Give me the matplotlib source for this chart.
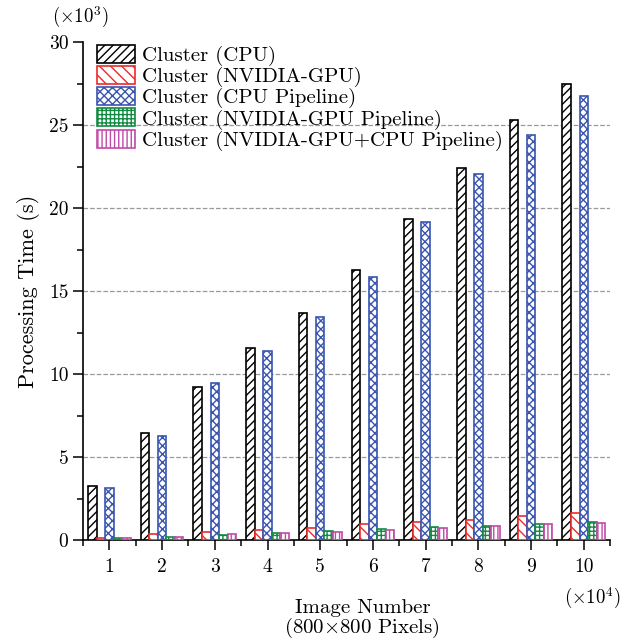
import numpy as np
import matplotlib
matplotlib.use('Agg')
import matplotlib.pyplot as plt
from matplotlib.ticker import MultipleLocator

plt.rcParams['font.family'] = ['cmr10', 'DejaVu Serif']
plt.rcParams['mathtext.fontset'] = 'cm'
plt.rcParams['axes.unicode_minus'] = False
plt.rcParams['hatch.linewidth'] = 1.0

# Image number (x10^4) and processing time (x10^3 s)
images = [1, 2, 3, 4, 5, 6, 7, 8, 9, 10]
cpu = [3.28, 6.48, 9.25, 11.6, 13.7, 16.27, 19.36, 22.4, 25.35, 27.5]
gpu = [0.16, 0.36, 0.49, 0.61, 0.77, 1.01, 1.09, 1.21, 1.46, 1.62]
cpu_pipe = [3.16, 6.3, 9.5, 11.4, 13.46, 15.87, 19.19, 22.08, 24.43, 26.78]
gpu_pipe = [0.12, 0.22, 0.35, 0.45, 0.55, 0.67, 0.79, 0.89, 0.97, 1.09]
mixed_pipe = [0.12, 0.22, 0.36, 0.42, 0.53, 0.65, 0.77, 0.85, 0.97, 1.05]

labels = ['Cluster (CPU)', 'Cluster (NVIDIA-GPU)', 'Cluster (CPU Pipeline)',
          'Cluster (NVIDIA-GPU Pipeline)', 'Cluster (NVIDIA-GPU+CPU Pipeline)']
series = [cpu, gpu, cpu_pipe, gpu_pipe, mixed_pipe]
colors = ['black', '#ee2a2a', '#3a55b0', '#138a42', '#c04aa8']
hatches = ['////', '\\\\\\', 'xxxx', '++++', '||||']

fig = plt.figure(figsize=(6.29, 6.41), dpi=100)
ax = fig.add_axes([0.132, 0.157, 0.838, 0.777])

x = np.array(images)
w = 0.162
for i, (vals, lab, c, h) in enumerate(zip(series, labels, colors, hatches)):
    ax.bar(x + (i - 2) * w, vals, width=w, facecolor='white', edgecolor=c,
           hatch=h, linewidth=1.2, label=lab, zorder=3)

ax.set_xlim(0.5, 10.5)
ax.set_ylim(0, 30)
ax.set_xticks(images)
ax.set_xticks(np.arange(0.5, 11, 1.0), minor=True)
ax.yaxis.set_major_locator(MultipleLocator(5))
ax.yaxis.set_minor_locator(MultipleLocator(2.5))
ax.tick_params(which='major', direction='out', length=7, width=1.1, labelsize=14)
ax.tick_params(axis='x', which='major', pad=6)
ax.tick_params(which='minor', direction='out', length=4, width=1.1)
ax.spines['top'].set_visible(False)
ax.spines['right'].set_visible(False)
ax.spines['left'].set_linewidth(1.2)
ax.spines['bottom'].set_linewidth(1.2)
ax.yaxis.grid(True, linestyle='--', color='#999999', linewidth=0.9, zorder=0)
ax.set_axisbelow(True)
fig.canvas.draw()
for t, gl in zip(ax.get_yticks(), ax.get_ygridlines()):
    if t >= 30:
        gl.set_visible(False)

ax.set_ylabel('Processing Time (s)', fontsize=16, labelpad=6)
ax.set_xlabel('Image Number\n(800$\\times$800 Pixels)', fontsize=15,
              linespacing=0.95)
ax.xaxis.set_label_coords(0.53, -0.118)
fig.text(0.127, 0.973, r'$(\times10^3)$', fontsize=13.5, ha='center', va='center')
fig.text(0.941, 0.066, r'$(\times10^4)$', fontsize=13.5, ha='center', va='center')

leg = ax.legend(loc='upper left', frameon=False, fontsize=15,
                handlelength=1.8, handleheight=0.95, labelspacing=0.0,
                handletextpad=0.35, borderaxespad=0.0, borderpad=0.0,
                bbox_to_anchor=(0.027, 0.995))

plt.savefig('out.png', dpi=100)
